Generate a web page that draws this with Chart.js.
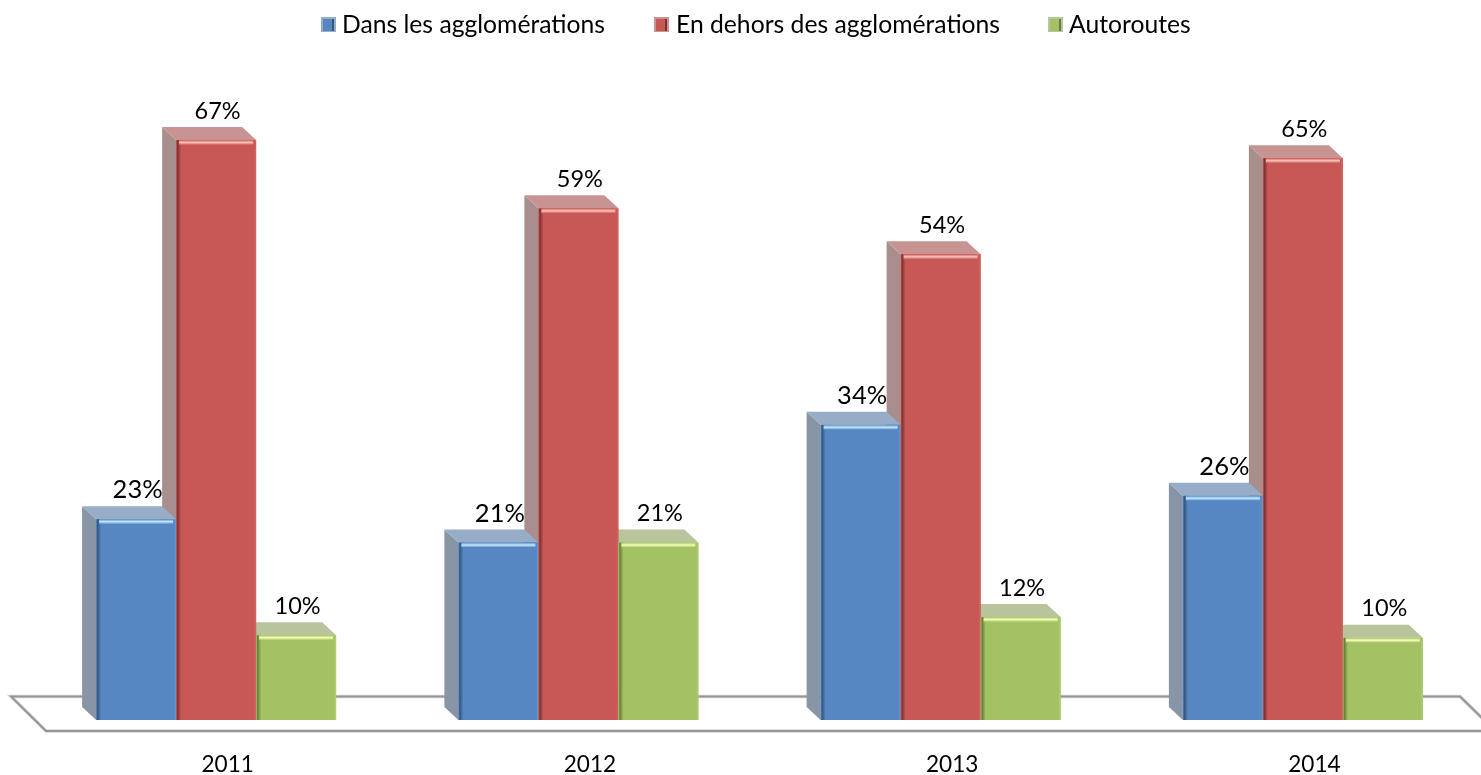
<!DOCTYPE html>
<html lang="fr"><head><meta charset="utf-8">
<style>html,body{margin:0;padding:0;background:#fff;overflow:hidden}#w{width:1481px;height:775px;position:relative;overflow:hidden}canvas{display:block}</style>
<script src="https://cdn.jsdelivr.net/npm/chart.js@4"></script></head>
<body><div id="w"><canvas id="c" width="1484" height="775"></canvas></div>
<script>
const categories = ['2011','2012','2013','2014'];
const seriesNames = ['Dans les agglomérations','En dehors des agglomérations','Autoroutes'];
const urban = [23.2,20.5,34.1,25.9];
const rural = [67.0,59.1,53.8,64.9];
const motorway = [9.8,20.5,11.9,9.5];

const FONT='Lato, sans-serif';
const faces=[
 {front:'#5787C3',side:'#8795A6',top:'#97ACC6',hi:'#C4ECFF',dark:'#33587F',edge:'#6593CC',labelSize:25.5},
 {front:'#C85855',side:'#A98E8E',top:'#C79393',hi:'#FBC4BF',dark:'#7E3230',edge:'#CE625F',labelSize:23.5},
 {front:'#A3C263',side:'#A8B590',top:'#B8C49C',hi:'#F8FFB8',dark:'#64803A',edge:'#ADCB70',labelSize:23.5}
];
const depthX=14, depthY=13;

const bevel3d={id:'bevel3d',
 beforeDatasetsDraw(ch){
  const c=ch.ctx,b=ch.chartArea.bottom;
  c.save();
  c.strokeStyle='#D8D8D8';c.lineWidth=3.5;c.lineJoin='miter';
  const floor=()=>{c.beginPath();c.moveTo(1483,b-1);c.lineTo(1460,b-23.5);c.lineTo(11,b-23.5);c.lineTo(46,b+11);c.lineTo(1483,b+11);c.stroke();};
  floor();
  c.strokeStyle='#969696';c.lineWidth=2;
  floor();
  [1,0,2].forEach(d=>{
   ch.getDatasetMeta(d).data.forEach(el=>{
    const p=el.getProps(['x','y','width','base'],true);
    const l=p.x-p.width/2,r=p.x+p.width/2;
    c.fillStyle=faces[d].side;
    c.beginPath();c.moveTo(l,p.y);c.lineTo(l-depthX,p.y-depthY);c.lineTo(l-depthX,p.base-depthY);c.lineTo(l,p.base);c.closePath();c.fill();
    c.fillStyle=faces[d].top;
    c.beginPath();c.moveTo(l,p.y);c.lineTo(l-depthX,p.y-depthY);c.lineTo(r-depthX,p.y-depthY);c.lineTo(r,p.y);c.closePath();c.fill();
   });
  });
  c.restore();
 },
 afterDatasetsDraw(ch){
  const c=ch.ctx;
  c.save();
  ch.data.datasets.forEach((ds,d)=>{
   const f=faces[d];
   ch.getDatasetMeta(d).data.forEach((el,i)=>{
    const p=el.getProps(['x','y','width','base'],true);
    const l=p.x-p.width/2,r=p.x+p.width/2;
    const g=c.createLinearGradient(l,0,l+5,0);
    g.addColorStop(0,f.front);g.addColorStop(0.3,f.dark);g.addColorStop(1,f.front);
    c.fillStyle=g;c.fillRect(l,p.y,5,p.base-p.y);
    c.fillStyle=f.edge;c.fillRect(r-1.5,p.y,1.5,p.base-p.y);
    const h=c.createLinearGradient(0,p.y,0,p.y+5);
    h.addColorStop(0,f.front);h.addColorStop(0.5,f.hi);h.addColorStop(1,f.front);
    c.fillStyle=h;c.fillRect(l+3,p.y,p.width-6,5);
    c.fillStyle='#000';c.textAlign='center';c.textBaseline='middle';
    c.font=f.labelSize+'px '+FONT;
    c.fillText(Math.round(ds.data[i])+'%',p.x+1.5,p.y-29);
   });
  });
  const sw=[321,654,1048],tx=[342,676,1069];
  ch.data.datasets.forEach((ds,d)=>{
   const f=faces[d],x=sw[d],y=17;
   c.fillStyle=f.top;c.fillRect(x,y,15,15);
   c.fillStyle=f.front;c.fillRect(x+2,y+2,10,12);
   c.fillStyle=f.dark;c.fillRect(x+11,y+2,2,12);
   c.fillStyle='#000';c.textAlign='left';c.textBaseline='middle';c.font='24.7px '+FONT;
   c.fillText(ds.label,tx[d],25);
  });
  c.restore();
 }
};

const seriesValues=[urban,rural,motorway];
new Chart(document.getElementById('c'),{
 type:'bar',
 data:{labels:categories,datasets:seriesNames.map((n,i)=>({label:n,data:seriesValues[i],backgroundColor:faces[i].front,borderWidth:0,categoryPercentage:0.6625,barPercentage:1}))},
 options:{responsive:false,animation:false,
  layout:{padding:{left:35,right:0,top:114,bottom:0}},
  plugins:{legend:{display:false},tooltip:{enabled:false}},
  scales:{
   x:{grid:{display:false},border:{display:false},afterFit(s){s.height=55},
      ticks:{color:'#000',font:{family:FONT,size:22.6},padding:23,labelOffset:11.5,maxRotation:0,autoSkip:false}},
   y:{display:false,min:0,max:70}
  }},
 plugins:[bevel3d]
});
</script></body></html>
